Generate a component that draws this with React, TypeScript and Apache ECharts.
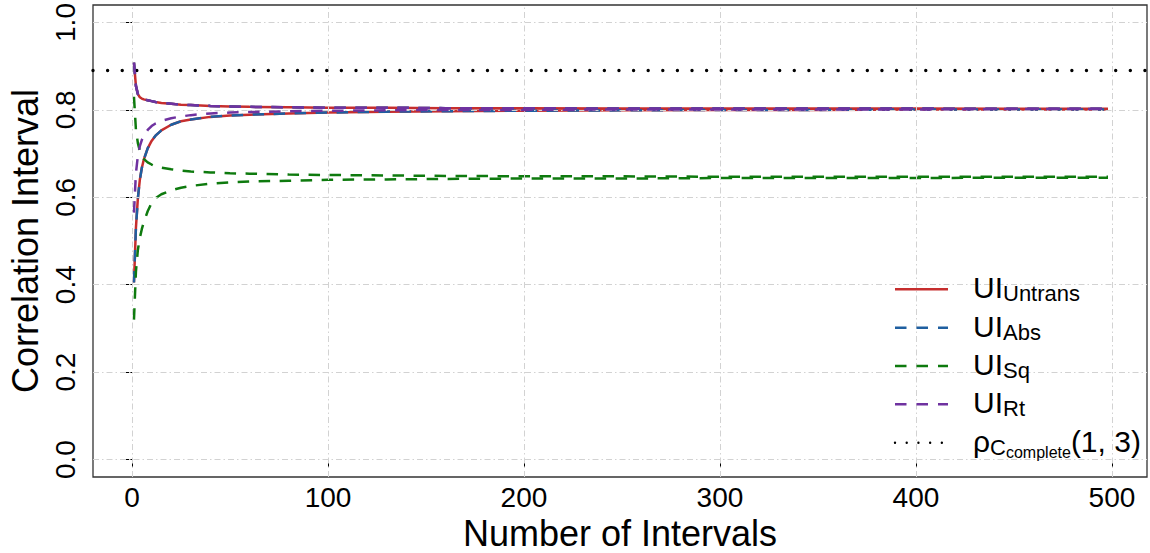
import React, { useEffect, useRef } from "react";
import * as echarts from "echarts";

// Number of intervals at which values were read
const N = [1, 2, 3, 4, 5, 6, 8, 10, 12, 15, 20, 25, 30, 40, 50, 60, 80, 100, 130, 160, 200, 250, 300, 350, 400, 450, 498];

const UNTRANS_UPPER = [0.908, 0.855, 0.836, 0.829, 0.826, 0.824, 0.822, 0.82, 0.818, 0.816, 0.814, 0.812, 0.811, 0.809, 0.808, 0.807, 0.806, 0.805, 0.805, 0.804, 0.804, 0.803, 0.803, 0.803, 0.803, 0.8025, 0.8025];
const UNTRANS_LOWER = [0.405, 0.53, 0.598, 0.64, 0.667, 0.686, 0.712, 0.729, 0.741, 0.753, 0.766, 0.774, 0.778, 0.784, 0.787, 0.789, 0.792, 0.794, 0.796, 0.797, 0.798, 0.799, 0.8, 0.8, 0.801, 0.801, 0.801];
const ABS_UPPER = [0.908, 0.855, 0.836, 0.829, 0.826, 0.824, 0.822, 0.82, 0.818, 0.816, 0.814, 0.812, 0.811, 0.809, 0.808, 0.807, 0.806, 0.805, 0.805, 0.804, 0.804, 0.803, 0.803, 0.803, 0.803, 0.8025, 0.8025];
const ABS_LOWER = [0.405, 0.53, 0.598, 0.64, 0.667, 0.686, 0.712, 0.729, 0.741, 0.753, 0.766, 0.774, 0.778, 0.784, 0.787, 0.789, 0.792, 0.794, 0.796, 0.797, 0.798, 0.799, 0.8, 0.8, 0.801, 0.801, 0.801];
const SQ_UPPER = [0.83, 0.755, 0.724, 0.706, 0.695, 0.688, 0.68, 0.675, 0.671, 0.668, 0.664, 0.661, 0.659, 0.657, 0.655, 0.654, 0.652, 0.651, 0.65, 0.649, 0.648, 0.648, 0.647, 0.647, 0.647, 0.647, 0.647];
const SQ_LOWER = [0.32, 0.43, 0.48, 0.507, 0.527, 0.543, 0.568, 0.587, 0.598, 0.607, 0.616, 0.622, 0.626, 0.631, 0.634, 0.636, 0.638, 0.64, 0.641, 0.642, 0.643, 0.643, 0.644, 0.644, 0.644, 0.645, 0.645];
const RT_UPPER = [0.908, 0.855, 0.836, 0.829, 0.826, 0.824, 0.822, 0.82, 0.818, 0.816, 0.814, 0.812, 0.811, 0.809, 0.808, 0.807, 0.806, 0.805, 0.805, 0.804, 0.804, 0.803, 0.803, 0.803, 0.803, 0.8025, 0.8025];
const RT_LOWER = [0.565, 0.655, 0.695, 0.717, 0.731, 0.741, 0.754, 0.763, 0.769, 0.775, 0.781, 0.785, 0.788, 0.792, 0.794, 0.795, 0.797, 0.798, 0.799, 0.8, 0.8, 0.801, 0.801, 0.801, 0.801, 0.802, 0.802];

const RHO_COMPLETE = 0.887;

const X_TICKS = [0, 100, 200, 300, 400, 500];
const Y_TICKS = [0, 0.2, 0.4, 0.6, 0.8, 1.0];

const FONT = "'Liberation Sans', Arial, Helvetica, sans-serif";
const RED = "#C62E2E";
const BLUE = "#1F5FA0";
const GREEN = "#0E7A0E";
const PURPLE = "#6F32A0";

const pairs = (ys: number[]) => N.map((x, i) => [x, ys[i]]);

export default function App() {
  const ref = useRef<HTMLDivElement>(null);
  useEffect(() => {
    if (!ref.current) return;
    const chart = echarts.init(ref.current, undefined, { renderer: "svg" });

    const dash = [11.5, 9.5];
    const mkLine = (name: string, ys: number[], color: string, type: any, z: number) => ({
      name,
      type: "line",
      data: pairs(ys),
      symbol: "none",
      showSymbol: false,
      z,
      silent: true,
      lineStyle: { color, width: 2.5, type },
      emphasis: { disabled: true },
    });

    const rich = {
      m: { fontSize: 30, fontFamily: FONT, color: "#000", verticalAlign: "middle" },
      s: { fontSize: 22, fontFamily: FONT, color: "#000", verticalAlign: "middle", padding: [12, 0, 0, 0] },
      ss: { fontSize: 16, fontFamily: FONT, color: "#000", verticalAlign: "middle", padding: [22, 0, 0, 0] },
    };
    const legendRows = [
      { y: 289.3, color: RED, dash: null as any, width: 2.5, text: "{m|UI}{s|Untrans}" },
      { y: 327.7, color: BLUE, dash: [11.5, 10], width: 2.5, text: "{m|UI}{s|Abs}" },
      { y: 366, color: GREEN, dash: [11.5, 10], width: 2.5, text: "{m|UI}{s|Sq}" },
      { y: 404.3, color: PURPLE, dash: [11.5, 10], width: 2.5, text: "{m|UI}{s|Rt}" },
      { y: 442.7, color: "#000", dash: [0.01, 11.7], width: 2.4, text: "{m|ρ}{s|C}{ss|complete}{m|(1, 3)}" },
    ];
    const graphic: any[] = [];
    legendRows.forEach((r) => {
      graphic.push({
        type: "line",
        shape: { x1: 895, y1: r.y, x2: 948, y2: r.y },
        style: { stroke: r.color, lineWidth: r.width, lineDash: r.dash || undefined, lineCap: r.dash && r.dash[0] < 1 ? "round" : "butt" },
        z: 100,
      });
      graphic.push({
        type: "text",
        x: 973,
        y: r.y - 1.5,
        style: {
          text: r.text,
          rich,
          fill: "#000",
          font: `30px ${FONT}`,
          align: "left",
          verticalAlign: "middle",
          textVerticalAlign: "middle",
        },
        z: 100,
      });
    });

    chart.setOption({
      animation: false,
      backgroundColor: "#fff",
      textStyle: { fontFamily: FONT },
      grid: {
        left: 93,
        right: 3,
        top: 5,
        bottom: 76,
        show: true,
        borderColor: "#333",
        borderWidth: 1.3,
        backgroundColor: "transparent",
        containLabel: false,
        outerBoundsMode: "none",
      },
      xAxis: {
        type: "value",
        min: -19.9,
        max: 517.9,
        axisLine: { show: false },
        axisTick: { show: true, length: 8, customValues: X_TICKS, lineStyle: { color: "#000", width: 1 } },
        axisLabel: { customValues: X_TICKS, fontSize: 28, color: "#000", margin: 6, fontFamily: FONT },
        splitLine: { show: false },
        name: "Number of Intervals",
        nameLocation: "middle",
        nameGap: 37,
        nameTextStyle: { fontSize: 36, color: "#000", fontFamily: FONT },
      },
      yAxis: {
        type: "value",
        min: -0.04,
        max: 1.04,
        axisLine: { show: false },
        axisTick: { show: true, length: 8, customValues: Y_TICKS, lineStyle: { color: "#000", width: 1 } },
        axisLabel: {
          customValues: Y_TICKS,
          rotate: 90,
          fontSize: 28,
          color: "#000",
          margin: 14,
          fontFamily: FONT,
          formatter: (v: number) => v.toFixed(1),
        },
        splitLine: { show: false },
        name: "Correlation Interval",
        nameLocation: "middle",
        nameRotate: 90,
        nameGap: 49,
        nameTextStyle: { fontSize: 36, color: "#000", fontFamily: FONT },
      },
      graphic,
      series: [
        {
          type: "line",
          data: [],
          z: 1,
          silent: true,
          markLine: {
            silent: true,
            symbol: ["none", "none"],
            label: { show: false },
            emphasis: { disabled: true },
            lineStyle: { color: "#d2d2d2", width: 1, type: [6, 3, 1.5, 3] },
            data: [
              ...X_TICKS.map((v) => ({ xAxis: v })),
              ...Y_TICKS.map((v) => ({ yAxis: v })),
            ],
          },
        },
        mkLine("UI Untrans", UNTRANS_UPPER, RED, "solid", 2),
        mkLine("UI Untrans", UNTRANS_LOWER, RED, "solid", 2),
        mkLine("UI Abs", ABS_UPPER, BLUE, dash, 3),
        mkLine("UI Abs", ABS_LOWER, BLUE, dash, 3),
        mkLine("UI Sq", SQ_UPPER, GREEN, dash, 4),
        mkLine("UI Sq", SQ_LOWER, GREEN, dash, 4),
        mkLine("UI Rt", RT_UPPER, PURPLE, dash, 5),
        mkLine("UI Rt", RT_LOWER, PURPLE, dash, 5),
        {
          type: "line",
          data: [],
          z: 6,
          silent: true,
          markLine: {
            silent: true,
            symbol: ["none", "none"],
            label: { show: false },
            emphasis: { disabled: true },
            lineStyle: { color: "#000", width: 3.4, type: [0.01, 14.6], cap: "round" },
            data: [{ yAxis: RHO_COMPLETE }],
          },
        },
      ],
    });
    return () => chart.dispose();
  }, []);

  return (
    <div
      ref={ref}
      style={{ position: "absolute", left: 0, top: 0, width: 1150, height: 553, background: "#fff" }}
    />
  );
}
